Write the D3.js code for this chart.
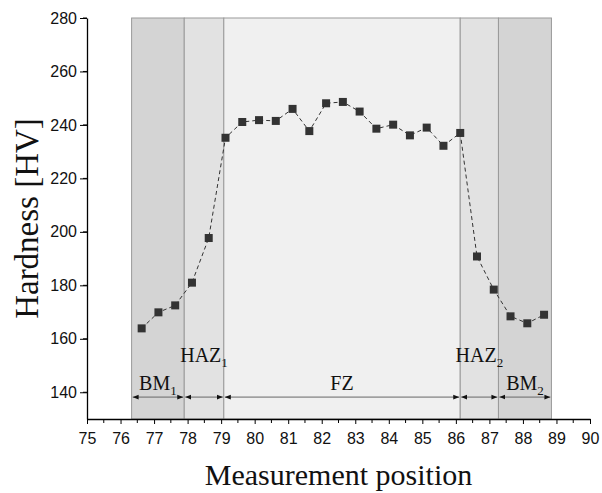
<!DOCTYPE html>
<html>
<head>
<meta charset="utf-8">
<script src="https://cdn.jsdelivr.net/npm/d3@7"></script>
<style>
    body { margin: 0; background: #fff; }
    svg { display: block; }
</style>
</head>
<body>
<svg id="chart"></svg>
<script>
const positions = [76.63, 77.13, 77.63, 78.13, 78.63, 79.13, 79.63, 80.13, 80.63, 81.13,
    81.63, 82.13, 82.63, 83.13, 83.63, 84.13, 84.63, 85.13, 85.63, 86.13,
    86.63, 87.13, 87.63, 88.13, 88.63];
const hardness = [163.9, 169.9, 172.5, 181.0, 197.7, 235.2, 241.1, 241.8, 241.5, 246.0,
    237.7, 248.1, 248.6, 245.0, 238.6, 240.1, 236.1, 239.0, 232.2, 237.0,
    190.8, 178.4, 168.4, 165.8, 169.0];

// weld zones
const zoneNames = ["BM", "HAZ", "FZ", "HAZ", "BM"];
const zoneSubs = ["1", "1", "", "2", "2"];
const zoneStart = [76.33, 77.9, 79.08, 86.13, 87.27];
const zoneEnd = [77.9, 79.08, 86.13, 87.27, 88.85];

const xTicks = d3.range(75, 91, 1);
const yTicks = [140, 160, 180, 200, 220, 240, 260, 280];

const width = 602, height = 493;
const margin = { top: 18, right: 12, bottom: 74, left: 87 };

const svg = d3.select("#chart")
    .attr("width", width)
    .attr("height", height);

const x = d3.scaleLinear().domain([75, 90]).range([margin.left, width - margin.right]);
const y = d3.scaleLinear().domain([130, 280]).range([height - margin.bottom, margin.top]);

// zone fills
const zoneFill = { BM: "#d4d4d4", HAZ: "#e2e2e2", FZ: "#f0f0f0" };
svg.append("g").selectAll("rect")
    .data(zoneNames)
    .join("rect")
    .attr("x", (d, i) => x(zoneStart[i]))
    .attr("y", y(280))
    .attr("width", (d, i) => x(zoneEnd[i]) - x(zoneStart[i]))
    .attr("height", y(130) - y(280))
    .attr("fill", d => zoneFill[d])
    .attr("stroke", "#9a9a9a")
    .attr("stroke-width", 1);

// arrow markers
const defs = svg.append("defs");
["start", "end"].forEach(k => {
    defs.append("marker")
        .attr("id", "arr-" + k)
        .attr("viewBox", "0 0 10 10")
        .attr("refX", 10).attr("refY", 5)
        .attr("markerWidth", 6).attr("markerHeight", 6)
        .attr("markerUnits", "userSpaceOnUse")
        .attr("orient", k === "end" ? "auto" : "auto-start-reverse")
        .append("path")
        .attr("d", "M0,1 L10,5 L0,9 Z")
        .attr("fill", "#111");
});

const arrowY = 138.2;
svg.append("g").selectAll("line")
    .data(zoneNames)
    .join("line")
    .attr("x1", (d, i) => x(zoneStart[i]) + 1)
    .attr("x2", (d, i) => x(zoneEnd[i]) - 1)
    .attr("y1", y(arrowY)).attr("y2", y(arrowY))
    .attr("stroke", "#666")
    .attr("stroke-width", 1)
    .attr("marker-start", "url(#arr-start)")
    .attr("marker-end", "url(#arr-end)");

// zone labels
const labelY = { BM: 140.9, HAZ: 151.3, FZ: 140.9 };
const labels = svg.append("g")
    .attr("font-family", "'Liberation Serif', 'Times New Roman', serif")
    .attr("font-size", 20)
    .attr("fill", "#111")
    .selectAll("text")
    .data(zoneNames)
    .join("text")
    .attr("x", (d, i) => x((zoneStart[i] + zoneEnd[i]) / 2))
    .attr("y", d => y(labelY[d]))
    .attr("text-anchor", "middle")
    .text(d => d);
labels.append("tspan")
    .attr("font-size", 13)
    .attr("dy", 5)
    .text((d, i) => zoneSubs[i]);

// dashed line and square markers
const line = d3.line()
    .x((d, i) => x(positions[i]))
    .y(d => y(d));

svg.append("path")
    .datum(hardness)
    .attr("d", line)
    .attr("fill", "none")
    .attr("stroke", "#333")
    .attr("stroke-width", 1)
    .attr("stroke-dasharray", "4,3");

svg.append("g").selectAll("rect")
    .data(hardness)
    .join("rect")
    .attr("x", (d, i) => x(positions[i]) - 4)
    .attr("y", d => y(d) - 4)
    .attr("width", 8)
    .attr("height", 8)
    .attr("fill", "#333");

// axes
const xAxis = svg.append("g")
    .attr("transform", `translate(0,${y(130)})`)
    .call(d3.axisBottom(x).tickValues(xTicks).tickFormat(d3.format("d")).tickSize(5).tickSizeOuter(0));
xAxis.append("g").selectAll("line")
    .data(d3.range(75.5, 90, 1))
    .join("line")
    .attr("x1", d => x(d)).attr("x2", d => x(d))
    .attr("y1", 0).attr("y2", 4)
    .attr("stroke", "#000");

const yAxis = svg.append("g")
    .attr("transform", `translate(${x(75)},0)`)
    .call(d3.axisLeft(y).tickValues(yTicks).tickSize(7).tickSizeOuter(0));
yAxis.append("g").selectAll("line")
    .data(d3.range(130, 280, 20).map(v => v + 20 - 10))
    .join("line")
    .attr("x1", 0).attr("x2", -4)
    .attr("y1", d => y(d)).attr("y2", d => y(d))
    .attr("stroke", "#000");

[xAxis, yAxis].forEach(a => {
    a.selectAll(".domain").attr("stroke", "#000").attr("stroke-width", 1.3);
    a.selectAll("text")
        .attr("font-family", "'Liberation Sans', Arial, sans-serif")
        .attr("font-size", 16)
        .attr("fill", "#111");
});
xAxis.selectAll(".tick text").attr("dy", "1.05em");

// axis titles
svg.append("text")
    .attr("x", (x(75) + x(90)) / 2)
    .attr("y", 485)
    .attr("text-anchor", "middle")
    .attr("font-family", "'Liberation Serif', 'Times New Roman', serif")
    .attr("font-size", 30)
    .attr("fill", "#111")
    .text("Measurement position");

svg.append("text")
    .attr("transform", `translate(38,${(y(130) + y(280)) / 2}) rotate(-90)`)
    .attr("text-anchor", "middle")
    .attr("font-family", "'Liberation Serif', 'Times New Roman', serif")
    .attr("font-size", 33)
    .attr("fill", "#111")
    .text("Hardness [HV]");
</script>
</body>
</html>
